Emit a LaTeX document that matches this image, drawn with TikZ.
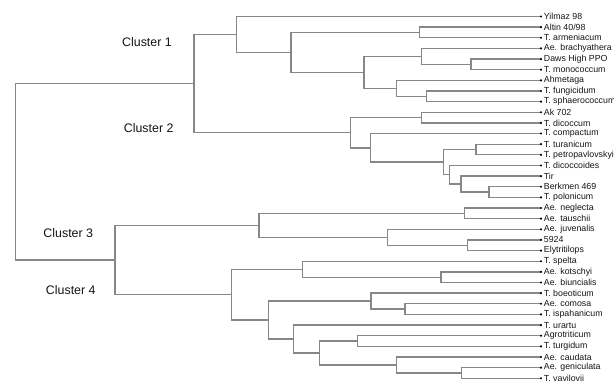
\documentclass[tikz,border=0pt]{standalone}
\usepackage{fontspec}
\newfontfamily\lfont{Liberation Sans}
\begin{document}
\begin{tikzpicture}[x=0.75pt,y=-0.75pt,
  br/.style={draw={rgb,255:red,135;green,135;blue,135}, line width=1pt},
  leaf/.style={anchor=west, inner xsep=2pt, inner ysep=0pt, font=\lfont\fontsize{6.6}{7}\selectfont, text={rgb,255:red,20;green,20;blue,20}},
  clabel/.style={inner sep=0pt, font=\lfont\fontsize{9.3}{10}\selectfont, text={rgb,255:red,20;green,20;blue,20}},
  dotm/.style={fill=black}]
\useasboundingbox (0,0) rectangle (614,381);
% leaves
\node[leaf] (t1) at (541,16.5) {Yilmaz 98};
\node[leaf] (t2) at (541,27.14) {Altin 40/98};
\node[leaf] (t3) at (541,37.78) {T. armeniacum};
\node[leaf] (t4) at (541,48.42) {Ae. brachyathera};
\node[leaf] (t5) at (541,59.06) {Daws High PPO};
\node[leaf] (t6) at (541,69.70) {T. monococcum};
\node[leaf] (t7) at (541,80.34) {Ahmetaga};
\node[leaf] (t8) at (541,90.98) {T. fungicidum};
\node[leaf] (t9) at (541,101.62) {T. sphaerococcum};
\node[leaf] (t10) at (541,112.26) {Ak 702};
\node[leaf] (t11) at (541,122.90) {T. dicoccum};
\node[leaf] (t12) at (541,133.54) {T. compactum};
\node[leaf] (t13) at (541,144.18) {T. turanicum};
\node[leaf] (t14) at (541,154.82) {T. petropavlovskyi};
\node[leaf] (t15) at (541,165.46) {T. dicoccoides};
\node[leaf] (t16) at (541,176.10) {Tir};
\node[leaf] (t17) at (541,186.74) {Berkmen 469};
\node[leaf] (t18) at (541,197.38) {T. polonicum};
\node[leaf] (t19) at (541,208.02) {Ae. neglecta};
\node[leaf] (t20) at (541,218.66) {Ae. tauschii};
\node[leaf] (t21) at (541,229.30) {Ae. juvenalis};
\node[leaf] (t22) at (541,239.94) {5924};
\node[leaf] (t23) at (541,250.58) {Elytritilops};
\node[leaf] (t24) at (541,261.22) {T. spelta};
\node[leaf] (t25) at (541,271.86) {Ae. kotschyi};
\node[leaf] (t26) at (541,282.50) {Ae. biuncialis};
\node[leaf] (t27) at (541,293.14) {T. boeoticum};
\node[leaf] (t28) at (541,303.78) {Ae. comosa};
\node[leaf] (t29) at (541,314.42) {T. ispahanicum};
\node[leaf] (t30) at (541,325.06) {T. urartu};
\node[leaf] (t31) at (541,335.70) {Agrotriticum};
\node[leaf] (t32) at (541,346.34) {T. turgidum};
\node[leaf] (t33) at (541,356.98) {Ae. caudata};
\node[leaf] (t34) at (541,367.62) {Ae. geniculata};
\node[leaf] (t35) at (541,378.26) {T. vavilovii};
% internal nodes
\coordinate (D) at (419.3,32.46);
\coordinate (G) at (471,64.38);
\coordinate (F) at (421.7,56.40);
\coordinate (I) at (426.7,96.30);
\coordinate (H) at (396.7,88.32);
\coordinate (E) at (364,72.36);
\coordinate (C) at (291,52.41);
\coordinate (B) at (236.3,34.46);
\coordinate (K) at (421.7,117.58);
\coordinate (N) at (476,149.50);
\coordinate (Q) at (489,192.06);
\coordinate (P) at (461,184.08);
\coordinate (O) at (449.3,174.77);
\coordinate (M) at (443.3,162.14);
\coordinate (L) at (370.7,147.84);
\coordinate (J) at (350.7,132.71);
\coordinate (A) at (194,83.59);
\coordinate (T) at (464.3,213.34);
\coordinate (V) at (467.3,245.26);
\coordinate (U) at (387.3,237.28);
\coordinate (S) at (259,225.31);
\coordinate (Y) at (441,277.18);
\coordinate (X) at (302.7,269.20);
\coordinate (AB) at (405,309.10);
\coordinate (AA) at (371,301.12);
\coordinate (AE) at (357.3,341.02);
\coordinate (AG) at (461.7,372.94);
\coordinate (AF) at (396.7,364.96);
\coordinate (AD) at (319.3,352.99);
\coordinate (AC) at (293.3,339.03);
\coordinate (Z) at (268.3,320.08);
\coordinate (W) at (231.7,294.64);
\coordinate (R) at (115,259.98);
\coordinate (root) at (15.3,171.78);
% branches
\draw[br] (root) |- (A);
\draw[br] (root) |- (R);
\draw[br] (A) |- (B);
\draw[br] (A) |- (J);
\draw[br] (B) |- (t1.west);
\draw[br] (B) |- (C);
\draw[br] (C) |- (D);
\draw[br] (C) |- (E);
\draw[br] (D) |- (t2.west);
\draw[br] (D) |- (t3.west);
\draw[br] (E) |- (F);
\draw[br] (E) |- (H);
\draw[br] (F) |- (t4.west);
\draw[br] (F) |- (G);
\draw[br] (G) |- (t5.west);
\draw[br] (G) |- (t6.west);
\draw[br] (H) |- (t7.west);
\draw[br] (H) |- (I);
\draw[br] (I) |- (t8.west);
\draw[br] (I) |- (t9.west);
\draw[br] (J) |- (K);
\draw[br] (J) |- (L);
\draw[br] (K) |- (t10.west);
\draw[br] (K) |- (t11.west);
\draw[br] (L) |- (t12.west);
\draw[br] (L) |- (M);
\draw[br] (M) |- (N);
\draw[br] (M) |- (O);
\draw[br] (N) |- (t13.west);
\draw[br] (N) |- (t14.west);
\draw[br] (O) |- (t15.west);
\draw[br] (O) |- (P);
\draw[br] (P) |- (t16.west);
\draw[br] (P) |- (Q);
\draw[br] (Q) |- (t17.west);
\draw[br] (Q) |- (t18.west);
\draw[br] (R) |- (S);
\draw[br] (R) |- (W);
\draw[br] (S) |- (T);
\draw[br] (S) |- (U);
\draw[br] (T) |- (t19.west);
\draw[br] (T) |- (t20.west);
\draw[br] (U) |- (t21.west);
\draw[br] (U) |- (V);
\draw[br] (V) |- (t22.west);
\draw[br] (V) |- (t23.west);
\draw[br] (W) |- (X);
\draw[br] (W) |- (Z);
\draw[br] (X) |- (t24.west);
\draw[br] (X) |- (Y);
\draw[br] (Y) |- (t25.west);
\draw[br] (Y) |- (t26.west);
\draw[br] (Z) |- (AA);
\draw[br] (Z) |- (AC);
\draw[br] (AA) |- (t27.west);
\draw[br] (AA) |- (AB);
\draw[br] (AB) |- (t28.west);
\draw[br] (AB) |- (t29.west);
\draw[br] (AC) |- (t30.west);
\draw[br] (AC) |- (AD);
\draw[br] (AD) |- (AE);
\draw[br] (AD) |- (AF);
\draw[br] (AE) |- (t31.west);
\draw[br] (AE) |- (t32.west);
\draw[br] (AF) |- (t33.west);
\draw[br] (AF) |- (AG);
\draw[br] (AG) |- (t34.west);
\draw[br] (AG) |- (t35.west);
% dots
\foreach \i in {1,...,35} {\fill[dotm] (t\i.west) circle[radius=0.9pt];}
% cluster labels
\node[clabel] (c1) at (147,41.7) {Cluster 1};
\node[clabel] (c2) at (148.7,128.3) {Cluster 2};
\node[clabel] (c3) at (68.3,233.3) {Cluster 3};
\node[clabel] (c4) at (70.8,290) {Cluster 4};
\end{tikzpicture}
\end{document}
